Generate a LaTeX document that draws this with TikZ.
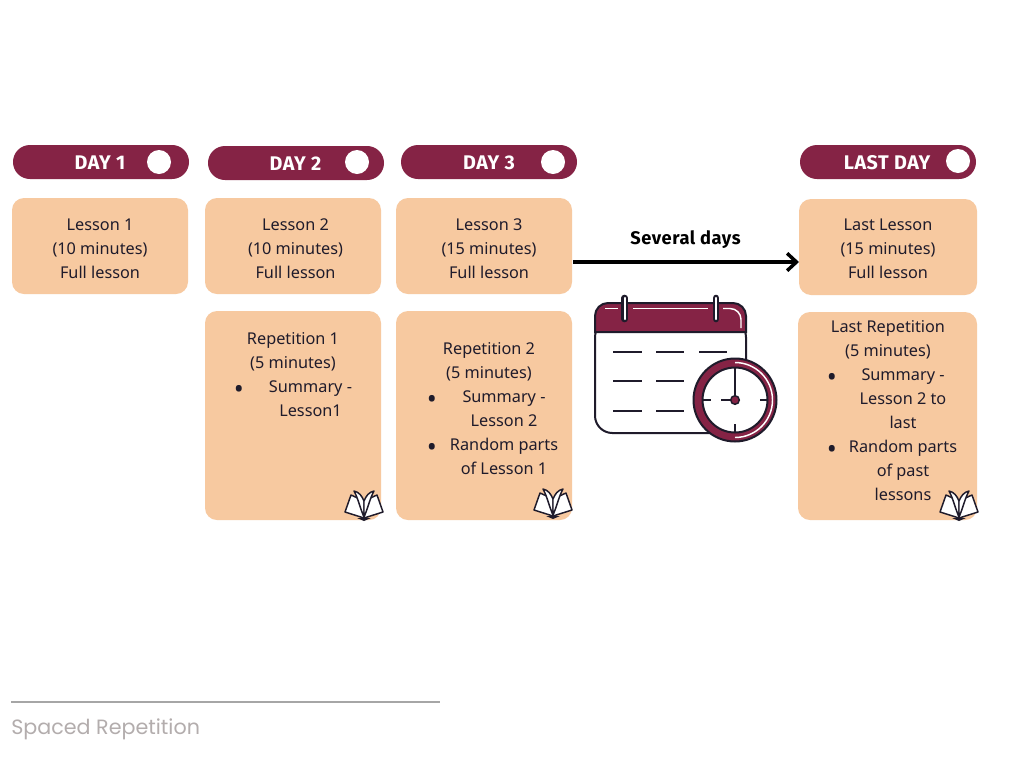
\documentclass[tikz,border=0pt]{standalone}
\usepackage{fontspec}
\setmainfont{Noto Sans}
\newfontfamily\headfont[LetterSpace=3]{Fira Sans}
\newfontfamily\captionfont{Poppins}
\usetikzlibrary{arrows.meta}
\definecolor{wine}{HTML}{852345}
\definecolor{peach}{HTML}{F7C9A0}
\definecolor{ink}{HTML}{1F1B2B}
\definecolor{rulegrey}{HTML}{A6A6A6}
\definecolor{captiongrey}{HTML}{B3ADAD}
\tikzset{
  x=0.75pt, y=-0.75pt,
  daypill/.style={fill=wine, rounded corners=12.7pt},
  card/.style={fill=peach, rounded corners=9pt},
  dayhead/.style={text=white, font=\headfont\bfseries\fontsize{14.8}{16}\selectfont, inner sep=0pt},
  cardtext/.style={text=ink, align=center, inner sep=0pt, font=\fontsize{12.2}{18}\selectfont},
  dot/.style={text=ink, inner sep=0pt, font=\fontsize{20}{20}\selectfont},
  dial/.style={draw=ink, line width=1.5pt},
  tick/.style={draw=ink, line width=1.3pt},
  bookpage/.style={fill=white, draw=ink, line width=1.1pt, line join=round},
  pics/openbook/.style={code={
    \path[fill=ink] (-7,28) -- (0,31) -- (7,28) -- cycle;
    \path[bookpage] (0,28) -- (-19,22) -- (-13,5) -- (-2,10) -- cycle;
    \path[bookpage] (0,28) -- (19,22) -- (13,5) -- (2,10) -- cycle;
    \path[bookpage] (0,27) .. controls (-4,18) and (-6,8) .. (-10,1) .. controls (-5,2) and (-2,6) .. (0,11) -- cycle;
    \path[bookpage] (0,27) .. controls (4,18) and (6,8) .. (10,1) .. controls (5,2) and (2,6) .. (0,11) -- cycle;
  }}
}
\begin{document}
\begin{tikzpicture}
  \useasboundingbox (0,0) rectangle (1024,768);
  \fill[white] (0,0) rectangle (1024,768);

  % Day headers
  \path[daypill] (13,145) rectangle (189,179);
  \path[daypill] (208,146) rectangle (384,180);
  \path[daypill] (401,145) rectangle (577,179);
  \path[daypill] (800,145) rectangle (976,179);
  \node[dayhead] (dayone) at (100,162.5) {DAY 1};
  \node[dayhead] (daytwo) at (295.5,163.5) {DAY 2};
  \node[dayhead] (daythree) at (489,162.5) {DAY 3};
  \node[dayhead] (dayfinal) at (887,162.5) {LAST DAY};
  \fill[white] (159,162) circle (12);
  \fill[white] (357,162) circle (12);
  \fill[white] (553,162) circle (12);
  \fill[white] (958,161) circle (12);

  % Lesson cards
  \path[card] (12,198) rectangle (188,294);
  \path[card] (205,198) rectangle (381,294);
  \path[card] (396,198) rectangle (572,294);
  \path[card] (799,199) rectangle (977,295);
  \node[cardtext] (lessonone) at (100,249) {Lesson 1\\(10 minutes)\\Full lesson};
  \node[cardtext] (lessontwo) at (295.5,249) {Lesson 2\\(10 minutes)\\Full lesson};
  \node[cardtext] (lessonthree) at (489,249) {Lesson 3\\(15 minutes)\\Full lesson};
  \node[cardtext] (lessonfinal) at (888,249) {Last Lesson\\(15 minutes)\\Full lesson};

  % Repetition cards
  \path[card] (205,311) rectangle (381,520);
  \path[card] (396,311) rectangle (572,520);
  \path[card] (798,312) rectangle (977,520);

  \node[cardtext] (reponehead) at (293,351.5) {Repetition 1\\(5 minutes)};
  \node[dot] (reponedot) at (239,392) {•};
  \node[cardtext] (reponebody) at (310.5,398.5) {Summary -\\Lesson1};

  \node[cardtext] (reptwohead) at (489,361.5) {Repetition 2\\(5 minutes)};
  \node[dot] (reptwodota) at (432,402) {•};
  \node[cardtext] (reptwobodya) at (504,408.5) {Summary -\\Lesson 2};
  \node[dot] (reptwodotb) at (432,450) {•};
  \node[cardtext] (reptwobodyb) at (504,456.5) {Random parts\\of Lesson 1};

  \node[cardtext] (repfinalhead) at (888,339.5) {Last Repetition\\(5 minutes)};
  \node[dot] (repfinaldota) at (832,380) {•};
  \node[cardtext] (repfinalbodya) at (903,398.5) {Summary -\\Lesson 2 to\\last};
  \node[dot] (repfinaldotb) at (832,452) {•};
  \node[cardtext] (repfinalbodyb) at (903,470.5) {Random parts\\of past\\lessons};

  % Open books in the card corners
  \pic at (364,490) {openbook};
  \pic at (553,488) {openbook};
  \pic at (959,490) {openbook};

  % Gap between lessons
  \node[inner sep=0pt, font=\headfont\bfseries\fontsize{13.7}{15}\selectfont, text=black] (gaplabel) at (685.5,240) {Several days};
  \coordinate (arrowstart) at (573,262);
  \coordinate (arrowend) at (799,262);
  \draw[line width=3pt, -{Straight Barb[length=7pt,width=13pt,line width=2.6pt]}, black] (arrowstart) -- (arrowend);

  % Calendar
  \path[fill=white, draw=ink, line width=1.5pt, rounded corners=13pt] (595,320) -- (595,433) -- (746,433) -- (746,320) -- cycle;
  \path[fill=wine, draw=ink, line width=1.5pt] (595,332) -- (595,316) arc[start angle=180, end angle=270, radius=13] -- (733,303) arc[start angle=-90, end angle=0, radius=13] -- (746,332) -- cycle;
  \draw[white, line width=1.1pt] (605,308.5) -- (618,308.5);
  \draw[white, line width=1.1pt] (633,308.5) -- (708,308.5);
  \draw[white, line width=1.1pt] (723,308.5) -- (730,308.5) arc[start angle=-90, end angle=0, radius=11] -- (741,328);
  \draw[ink, line width=5pt, line cap=round] (624.7,298) -- (624.7,319);
  \draw[white, line width=1.8pt, line cap=round] (624.7,298) -- (624.7,319);
  \draw[ink, line width=5pt, line cap=round] (716,298) -- (716,319);
  \draw[white, line width=1.8pt, line cap=round] (716,298) -- (716,319);
  \foreach \rowy in {352,381,411}{
    \draw[ink, line width=1.5pt] (613,\rowy) -- (642,\rowy);
    \draw[ink, line width=1.5pt] (656,\rowy) -- (684,\rowy);
  }
  \draw[ink, line width=1.5pt] (699,352) -- (727,352);

  % Clock on the calendar corner
  \path[fill=wine, dial] (735,400) circle (41.5);
  \path[fill=white, dial] (735,400) circle (32.5);
  \draw[white, line width=1.1pt] (735,362.5) arc[start angle=-90, end angle=90, radius=37.5];
  \draw[tick] (735,368) -- (735,396);
  \draw[tick] (721,400) -- (731,400);
  \draw[tick] (702.5,400) -- (711,400);
  \draw[tick] (760,400) -- (767.5,400);
  \draw[tick] (735,424) -- (735,432.5);
  \path[fill=wine, draw=ink, line width=1.1pt] (735,400) circle (4.3);

  % Caption
  \coordinate (rulestart) at (11,702);
  \coordinate (ruleend) at (440,702);
  \draw[rulegrey, line width=1.2pt] (rulestart) -- (ruleend);
  \node[anchor=base west, inner sep=0pt, text=captiongrey, font=\captionfont\fontsize{15.5}{18}\selectfont] (caption) at (11,734) {Spaced Repetition};
\end{tikzpicture}
\end{document}
